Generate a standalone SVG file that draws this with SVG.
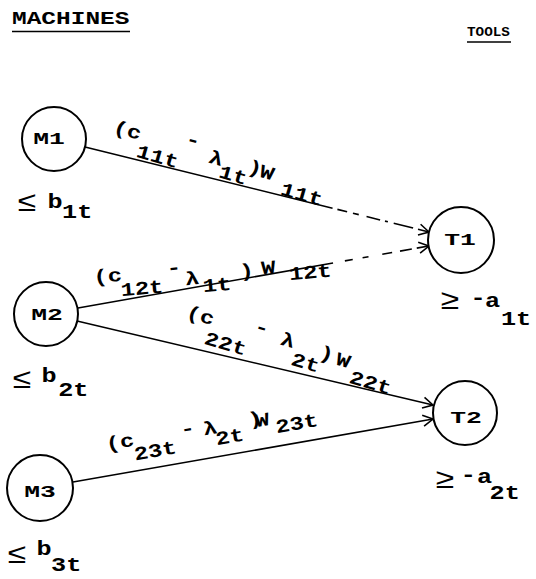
<svg xmlns="http://www.w3.org/2000/svg" width="536" height="579" viewBox="0 0 536 579">
<style>
text{font-family:"Liberation Mono","DejaVu Sans Mono",monospace;fill:#000}
.title{font-size:18px;font-weight:bold}
.title2{font-size:13.5px;font-weight:bold}
.nl{font-size:17px;font-weight:bold}
.el{font-size:19px;font-weight:bold}
.bl{font-size:21px;font-weight:bold}
.sym{font-size:28px;font-weight:normal}
.node circle{fill:#fff;stroke:#000;stroke-width:2}
.edge{fill:none;stroke:#000;stroke-width:1.6}
.ul{stroke:#000;stroke-width:1.6}
</style>
<defs>
<marker id="arr" markerUnits="userSpaceOnUse" markerWidth="14" markerHeight="14" refX="12" refY="7" orient="auto">
<path d="M2,1.5 L12,7 L2,12.5" fill="none" stroke="#000" stroke-width="1.6"/>
</marker>
</defs>
<rect width="536" height="579" fill="#fff"/>

<g id="titles">
<text class="title" transform="translate(12,24) scale(1.36,1)">MACHINES</text>
<line class="ul" x1="12" y1="31.5" x2="130" y2="31.5"/>
<text class="title2" transform="translate(467,36) scale(1.06,1)">TOOLS</text>
<line class="ul" x1="467" y1="42" x2="511" y2="42"/>
</g>

<g id="connectors">
<g id="e-m1-t1">
<line class="edge" x1="85" y1="147" x2="429" y2="232" stroke-dasharray="255 5 10 6 6 8 14 5 3 6 20 5 16" marker-end="url(#arr)"/>
<g transform="translate(115,133) rotate(16) scale(1.25,1)"><text class="el"><tspan x="-2.4" y="0">(c</tspan><tspan x="20.8" y="17">11t</tspan><tspan x="56" y="-9">-</tspan><tspan x="77.6" y="2.6">λ</tspan><tspan x="88.8" y="14">1t</tspan><tspan x="109.6" y="1">)</tspan><tspan x="120" y="2.3">W</tspan><tspan x="140" y="13.5">11t</tspan></text></g>
</g>
<g id="e-m2-t1">
<line class="edge" x1="78" y1="308" x2="429" y2="246" stroke-dasharray="259 12 8 10 6 14 10 8 12 5 12" marker-end="url(#arr)"/>
<g transform="translate(97,283) rotate(-5) scale(1.25,1)"><text class="el"><tspan x="-2.4" y="0">(c</tspan><tspan x="18.4" y="15.2">12t</tspan><tspan x="56.6" y="-2.7">-</tspan><tspan x="70.4" y="9.9">λ</tspan><tspan x="84" y="18.4">1t</tspan><tspan x="114.4" y="6.9">)</tspan><tspan x="132" y="5.6">W</tspan><tspan x="153.6" y="14">12t</tspan></text></g>
</g>
<g id="e-m2-t2">
<line class="edge" x1="77" y1="321" x2="433" y2="405" marker-end="url(#arr)"/>
<g transform="translate(188,318) rotate(16.5) scale(1.25,1)"><text class="el"><tspan x="-2.4" y="0">(c</tspan><tspan x="17.6" y="20.1">22t</tspan><tspan x="53.2" y="-5.8">-</tspan><tspan x="76" y="-0.8">λ</tspan><tspan x="88.8" y="15.6">2t</tspan><tspan x="108.8" y="1">)</tspan><tspan x="123.2" y="2.7">W</tspan><tspan x="137.6" y="16.3">22t</tspan></text></g>
</g>
<g id="e-m3-t2">
<line class="edge" x1="73" y1="482" x2="433" y2="419" marker-end="url(#arr)"/>
<g transform="translate(110,450) rotate(-10) scale(1.25,1)"><text class="el"><tspan x="-2.4" y="0">(c</tspan><tspan x="18.4" y="14.6">23t</tspan><tspan x="58.4" y="-1.7">-</tspan><tspan x="76" y="2.1">λ</tspan><tspan x="84.8" y="13.9">2t</tspan><tspan x="112.8" y="0.6">)</tspan><tspan x="118.4" y="3.1">W</tspan><tspan x="133.6" y="12.5">23t</tspan></text></g>
</g>
</g>

<g id="M1" class="node">
<circle cx="54" cy="139" r="32"/>
<text class="nl" text-anchor="middle" transform="translate(49,144) scale(1.55,1)">M1</text>
<g transform="translate(17,208) scale(1.2,1)"><text class="bl"><tspan class="sym" x="0" y="3">≤</tspan><tspan x="25.4" y="0">b</tspan><tspan x="37.6" y="10">1t</tspan></text></g>
</g>
<g id="M2" class="node">
<circle cx="46" cy="314" r="32"/>
<text class="nl" text-anchor="middle" transform="translate(47,320) scale(1.55,1)">M2</text>
<g transform="translate(12,382) scale(1.2,1)"><text class="bl"><tspan class="sym" x="0" y="6">≤</tspan><tspan x="24.5" y="0">b</tspan><tspan x="38.5" y="14">2t</tspan></text></g>
</g>
<g id="M3" class="node">
<circle cx="40" cy="488" r="33"/>
<text class="nl" text-anchor="middle" transform="translate(40,497) scale(1.55,1)">M3</text>
<g transform="translate(7,555) scale(1.2,1)"><text class="bl"><tspan class="sym" x="0" y="8">≤</tspan><tspan x="24.5" y="0">b</tspan><tspan x="36.75" y="16">3t</tspan></text></g>
</g>
<g id="T1" class="node">
<circle cx="461" cy="240" r="33"/>
<text class="nl" text-anchor="middle" transform="translate(460,245) scale(1.55,1)">T1</text>
<g transform="translate(440,307) scale(1.2,1)"><text class="bl"><tspan class="sym" x="0" y="2">≥</tspan><tspan x="25.4" y="-3">-</tspan><tspan x="37.6" y="0">a</tspan><tspan x="50.75" y="18">1t</tspan></text></g>
</g>
<g id="T2" class="node">
<circle cx="465" cy="413" r="32"/>
<text class="nl" text-anchor="middle" transform="translate(466,423) scale(1.55,1)">T2</text>
<g transform="translate(435,484) scale(1.2,1)"><text class="bl"><tspan class="sym" x="0" y="4">≥</tspan><tspan x="21.5" y="-3">-</tspan><tspan x="35" y="-1">a</tspan><tspan x="45.5" y="15">2t</tspan></text></g>
</g>
</svg>
